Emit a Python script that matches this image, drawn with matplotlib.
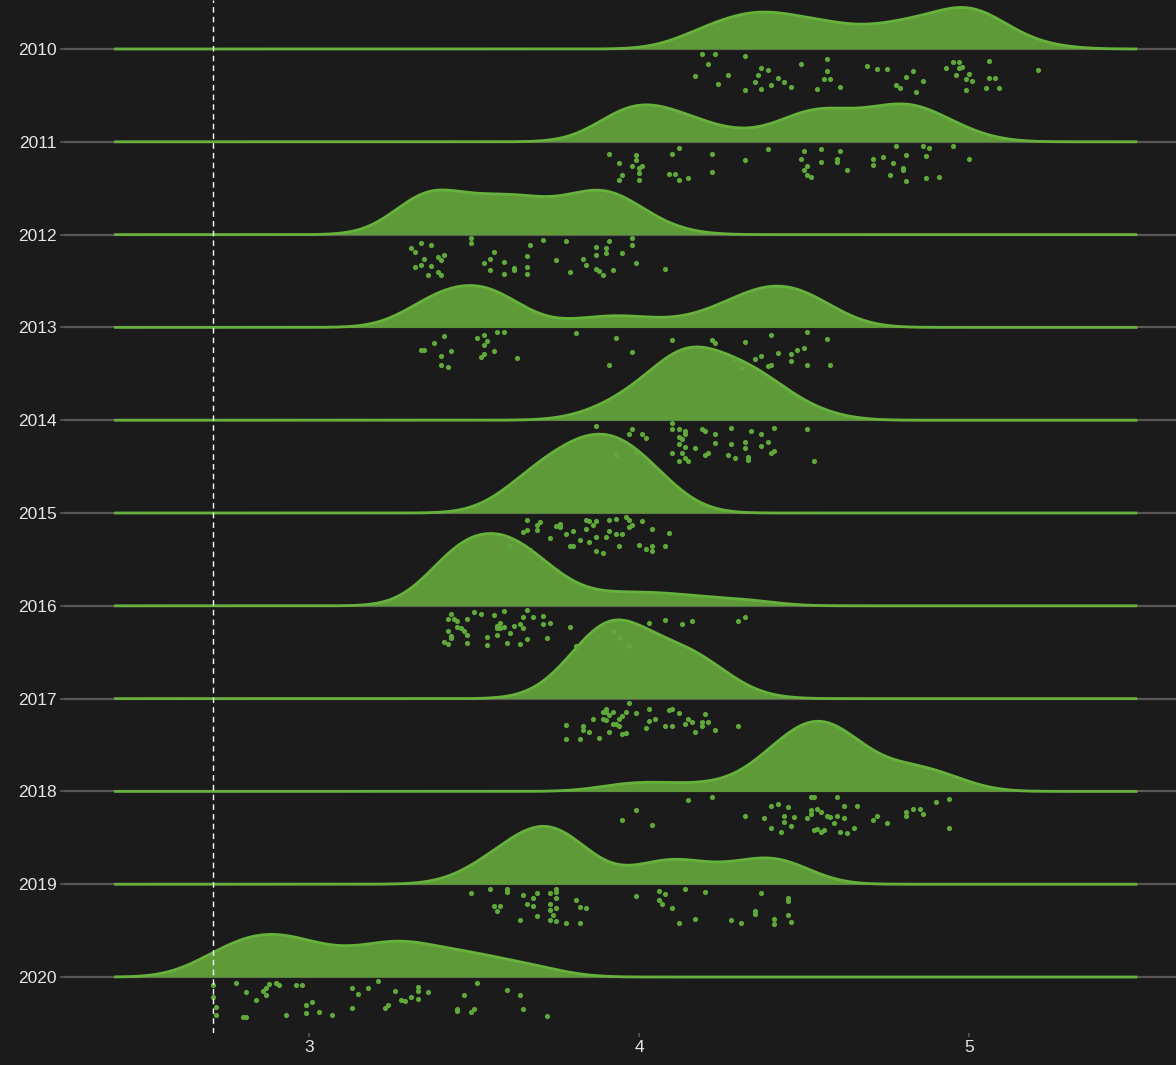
import numpy as np
import matplotlib
matplotlib.use("Agg")
import matplotlib.pyplot as plt

plt.rcParams['font.family'] = ['Liberation Sans', 'DejaVu Sans']

# observed values per year, with the vertical jitter each point was drawn with
x2010 = [4.19, 4.23, 4.32, 4.21, 4.17, 4.24, 4.27, 4.32, 4.37, 4.39, 4.36, 4.35, 4.37, 4.40, 4.42, 4.44,
         4.46, 4.49, 4.57, 4.57, 4.56, 4.58, 4.54, 4.61, 4.69, 4.72, 4.75, 4.78, 4.79, 4.81, 4.83, 4.86,
         4.84, 4.93, 4.95, 4.97, 4.97, 4.98, 4.96, 5.00, 4.99, 5.01, 4.99, 5.06, 5.06, 5.08, 5.05, 5.09, 5.21]
j2010 = [0.05, 0.05, 0.08, 0.16, 0.29, 0.38, 0.28, 0.44, 0.20, 0.23, 0.28, 0.36, 0.43, 0.39, 0.31, 0.36,
         0.41, 0.16, 0.11, 0.24, 0.32, 0.32, 0.43, 0.41, 0.18, 0.22, 0.22, 0.39, 0.42, 0.30, 0.24, 0.35,
         0.46, 0.20, 0.14, 0.14, 0.20, 0.19, 0.28, 0.27, 0.32, 0.34, 0.44, 0.13, 0.31, 0.31, 0.42, 0.42, 0.23]

x2011 = [3.91, 3.94, 3.95, 3.94, 3.98, 3.99, 3.99, 4.00, 4.01, 4.00, 4.00, 4.10, 4.12, 4.09, 4.11, 4.12,
         4.15, 4.22, 4.22, 4.32, 4.39, 4.50, 4.49, 4.51, 4.50, 4.51, 4.52, 4.55, 4.55, 4.61, 4.60, 4.60,
         4.63, 4.71, 4.71, 4.74, 4.76, 4.77, 4.78, 4.80, 4.80, 4.81, 4.81, 4.86, 4.88, 4.87, 4.87, 4.91,
         4.95, 5.00]
j2011 = [0.13, 0.23, 0.36, 0.41, 0.26, 0.14, 0.20, 0.28, 0.26, 0.34, 0.41, 0.13, 0.07, 0.35, 0.35, 0.41,
         0.39, 0.13, 0.33, 0.20, 0.08, 0.10, 0.18, 0.26, 0.30, 0.36, 0.38, 0.08, 0.22, 0.10, 0.19, 0.22,
         0.30, 0.18, 0.25, 0.16, 0.36, 0.23, 0.05, 0.28, 0.30, 0.14, 0.42, 0.05, 0.07, 0.15, 0.39, 0.38,
         0.04, 0.18]

x2012 = [3.31, 3.32, 3.34, 3.37, 3.35, 3.39, 3.40, 3.41, 3.32, 3.34, 3.37, 3.36, 3.39, 3.40, 3.49, 3.49,
         3.56, 3.55, 3.53, 3.55, 3.59, 3.59, 3.62, 3.62, 3.66, 3.67, 3.66, 3.66, 3.71, 3.75, 3.78, 3.79,
         3.83, 3.84, 3.87, 3.87, 3.90, 3.90, 3.91, 3.87, 3.88, 3.89, 3.92, 3.95, 3.98, 3.98, 3.99, 4.08]
j2012 = [0.14, 0.19, 0.09, 0.11, 0.26, 0.24, 0.27, 0.22, 0.35, 0.33, 0.34, 0.44, 0.40, 0.43, 0.04, 0.09,
         0.19, 0.26, 0.31, 0.38, 0.29, 0.42, 0.36, 0.38, 0.23, 0.11, 0.35, 0.42, 0.06, 0.27, 0.07, 0.40,
         0.26, 0.33, 0.13, 0.22, 0.14, 0.20, 0.07, 0.37, 0.39, 0.43, 0.38, 0.20, 0.04, 0.11, 0.31, 0.37]

x2013 = [3.34, 3.35, 3.38, 3.41, 3.40, 3.43, 3.40, 3.42, 3.51, 3.53, 3.54, 3.53, 3.52, 3.53, 3.56, 3.57,
         3.59, 3.63, 3.81, 3.91, 3.93, 3.98, 4.10, 4.22, 4.23, 4.29, 4.31, 4.32, 4.35, 4.37, 4.40, 4.42,
         4.39, 4.40, 4.46, 4.46, 4.48, 4.50, 4.51, 4.51, 4.57, 4.58]
j2013 = [0.24, 0.24, 0.17, 0.09, 0.31, 0.25, 0.41, 0.43, 0.11, 0.08, 0.15, 0.19, 0.32, 0.29, 0.25, 0.05,
         0.05, 0.33, 0.06, 0.40, 0.11, 0.27, 0.14, 0.14, 0.17, 0.34, 0.44, 0.16, 0.34, 0.31, 0.08, 0.28,
         0.42, 0.41, 0.36, 0.29, 0.24, 0.22, 0.05, 0.41, 0.12, 0.41]

x2014 = [3.87, 3.97, 3.98, 4.01, 4.02, 3.99, 3.93, 4.10, 4.10, 4.12, 4.14, 4.14, 4.12, 4.13, 4.12, 4.14,
         4.17, 4.10, 4.13, 4.14, 4.15, 4.12, 4.19, 4.20, 4.23, 4.23, 4.21, 4.20, 4.28, 4.28, 4.27, 4.29,
         4.32, 4.32, 4.33, 4.33, 4.34, 4.37, 4.37, 4.39, 4.40, 4.41, 4.41, 4.51, 4.53]
j2014 = [0.06, 0.15, 0.10, 0.15, 0.19, 0.34, 0.38, 0.03, 0.10, 0.10, 0.12, 0.15, 0.18, 0.20, 0.26, 0.29,
         0.30, 0.35, 0.35, 0.41, 0.44, 0.44, 0.09, 0.12, 0.15, 0.25, 0.35, 0.38, 0.08, 0.26, 0.37, 0.41,
         0.23, 0.30, 0.40, 0.43, 0.12, 0.15, 0.28, 0.23, 0.35, 0.33, 0.08, 0.09, 0.44]

x2015 = [3.66, 3.70, 3.69, 3.69, 3.66, 3.65, 3.76, 3.76, 3.75, 3.73, 3.78, 3.80, 3.79, 3.80, 3.82, 3.84,
         3.85, 3.87, 3.86, 3.84, 3.85, 3.87, 3.87, 3.89, 3.91, 3.91, 3.90, 3.93, 3.93, 3.95, 3.96, 3.97,
         3.98, 3.97, 3.94, 4.01, 4.04, 4.00, 4.02, 4.04, 4.04, 4.09, 4.08, 3.61, 3.67]
j2015 = [0.08, 0.10, 0.13, 0.18, 0.18, 0.20, 0.12, 0.15, 0.14, 0.27, 0.23, 0.19, 0.36, 0.35, 0.29, 0.07,
         0.09, 0.09, 0.13, 0.17, 0.31, 0.26, 0.41, 0.43, 0.07, 0.19, 0.26, 0.06, 0.23, 0.23, 0.04, 0.07,
         0.13, 0.15, 0.36, 0.09, 0.17, 0.34, 0.39, 0.36, 0.41, 0.22, 0.36, 0.35, 0.40]

x2016 = [3.43, 3.42, 3.44, 3.45, 3.48, 3.50, 3.52, 3.56, 3.59, 3.66, 3.65, 3.68, 3.71, 3.71, 3.73, 3.58,
         3.57, 3.57, 3.58, 3.59, 3.62, 3.64, 3.65, 3.61, 3.57, 3.54, 3.54, 3.60, 3.64, 3.66, 3.72, 3.79,
         3.45, 3.46, 3.47, 3.48, 3.42, 3.43, 3.43, 3.41, 3.42, 3.48, 3.92, 3.94, 3.97, 3.81, 4.03, 4.08,
         4.13, 4.16, 4.30, 4.32]
j2016 = [0.09, 0.14, 0.14, 0.16, 0.14, 0.07, 0.09, 0.10, 0.06, 0.04, 0.12, 0.12, 0.11, 0.20, 0.18, 0.18,
         0.22, 0.24, 0.24, 0.23, 0.22, 0.20, 0.24, 0.29, 0.31, 0.34, 0.42, 0.40, 0.41, 0.36, 0.35, 0.23,
         0.23, 0.24, 0.27, 0.31, 0.27, 0.32, 0.35, 0.39, 0.41, 0.40, 0.27, 0.35, 0.43, 0.43, 0.18, 0.15,
         0.20, 0.16, 0.16, 0.12]

x2017 = [3.78, 3.78, 3.82, 3.83, 3.83, 3.85, 3.86, 3.88, 3.89, 3.90, 3.90, 3.89, 3.90, 3.91, 3.92, 3.91,
         3.92, 3.93, 3.94, 3.94, 3.95, 3.95, 3.96, 3.96, 3.97, 3.99, 4.02, 4.03, 4.03, 4.05, 4.08, 4.10,
         4.09, 4.10, 4.12, 4.14, 4.15, 4.16, 4.17, 4.19, 4.19, 4.20, 4.21, 4.23, 4.30]
j2017 = [0.28, 0.43, 0.44, 0.29, 0.34, 0.36, 0.22, 0.42, 0.14, 0.11, 0.14, 0.22, 0.23, 0.18, 0.14, 0.36,
         0.27, 0.27, 0.29, 0.22, 0.19, 0.38, 0.37, 0.14, 0.05, 0.16, 0.32, 0.24, 0.11, 0.22, 0.29, 0.29,
         0.12, 0.11, 0.16, 0.27, 0.22, 0.25, 0.36, 0.25, 0.29, 0.17, 0.25, 0.34, 0.29]

x2018 = [3.95, 3.99, 4.04, 4.15, 4.22, 4.32, 4.38, 4.40, 4.42, 4.40, 4.43, 4.44, 4.44, 4.45, 4.46, 4.47,
         4.51, 4.52, 4.52, 4.52, 4.53, 4.54, 4.55, 4.53, 4.54, 4.55, 4.56, 4.57, 4.58, 4.60, 4.59, 4.60,
         4.62, 4.62, 4.61, 4.63, 4.65, 4.66, 4.71, 4.72, 4.75, 4.81, 4.81, 4.83, 4.85, 4.86, 4.90, 4.94,
         4.94]
j2018 = [0.31, 0.20, 0.36, 0.09, 0.06, 0.27, 0.29, 0.16, 0.14, 0.39, 0.44, 0.27, 0.33, 0.17, 0.37, 0.28,
         0.29, 0.20, 0.24, 0.06, 0.06, 0.19, 0.22, 0.42, 0.40, 0.44, 0.42, 0.27, 0.28, 0.27, 0.34, 0.06,
         0.16, 0.29, 0.44, 0.45, 0.39, 0.16, 0.31, 0.27, 0.34, 0.22, 0.27, 0.19, 0.19, 0.24, 0.11, 0.08,
         0.39]

x2019 = [3.49, 3.55, 3.60, 3.60, 3.65, 3.69, 3.66, 3.68, 3.68, 3.73, 3.75, 3.75, 3.75, 3.73, 3.73, 3.75,
         3.74, 3.69, 3.64, 3.73, 3.75, 3.78, 3.82, 3.81, 3.82, 3.84, 3.56, 3.58, 3.57, 3.99, 4.06, 4.08,
         4.06, 4.07, 4.10, 4.14, 4.20, 4.17, 4.12, 4.28, 4.31, 4.35, 4.35, 4.37, 4.45, 4.45, 4.45, 4.41,
         4.41, 4.46]
j2019 = [0.09, 0.05, 0.05, 0.08, 0.12, 0.09, 0.21, 0.15, 0.23, 0.09, 0.05, 0.08, 0.15, 0.21, 0.28, 0.26,
         0.33, 0.34, 0.38, 0.38, 0.40, 0.42, 0.42, 0.17, 0.24, 0.26, 0.23, 0.23, 0.29, 0.13, 0.07, 0.10,
         0.17, 0.21, 0.26, 0.05, 0.08, 0.37, 0.42, 0.38, 0.42, 0.29, 0.32, 0.09, 0.15, 0.18, 0.33, 0.37,
         0.43, 0.41]

x2020 = [2.71, 2.71, 2.72, 2.72, 2.78, 2.81, 2.84, 2.86, 2.87, 2.88, 2.87, 2.90, 2.91, 2.80, 2.81, 2.93,
         2.96, 2.98, 2.99, 3.01, 2.99, 3.03, 3.07, 3.13, 3.13, 3.15, 3.18, 3.21, 3.23, 3.24, 3.26, 3.28,
         3.29, 3.31, 3.33, 3.33, 3.33, 3.36, 3.45, 3.45, 3.47, 3.49, 3.50, 3.51, 3.60, 3.64, 3.65, 3.72]
j2020 = [0.09, 0.22, 0.32, 0.41, 0.06, 0.16, 0.25, 0.15, 0.12, 0.08, 0.19, 0.06, 0.09, 0.43, 0.43, 0.41,
         0.09, 0.09, 0.30, 0.27, 0.39, 0.38, 0.41, 0.12, 0.33, 0.18, 0.12, 0.04, 0.33, 0.30, 0.15, 0.25,
         0.26, 0.22, 0.11, 0.15, 0.24, 0.16, 0.34, 0.37, 0.19, 0.38, 0.34, 0.06, 0.14, 0.19, 0.34, 0.42]

years = [2010, 2011, 2012, 2013, 2014, 2015, 2016, 2017, 2018, 2019, 2020]
values = [x2010, x2011, x2012, x2013, x2014, x2015, x2016, x2017, x2018, x2019, x2020]
jitter = [j2010, j2011, j2012, j2013, j2014, j2015, j2016, j2017, j2018, j2019, j2020]

BG = "#1b1b1b"
FILL = "#5e9a38"
EDGE = "#67b23c"
POINT = "#5ea93a"
GRID = "#585858"
TEXT = "#e6e6e6"

bw = 0.1
scale = 0.85

all_vals = np.concatenate([np.asarray(v) for v in values])
grid = np.linspace(all_vals.min() - 3 * bw, all_vals.max() + 3 * bw, 512)


def kde(v):
    v = np.asarray(v)
    z = (grid[:, None] - v[None, :]) / bw
    return np.exp(-0.5 * z ** 2).sum(axis=1) / (len(v) * bw * np.sqrt(2 * np.pi))


dens = [kde(v) for v in values]
top = max(d.max() for d in dens)

fig = plt.figure(figsize=(11.76, 10.65), dpi=100, facecolor=BG)
ax = fig.add_axes([64 / 1176, 32 / 1065, 1112 / 1176, 1033 / 1065])
ax.set_facecolor(BG)

n = len(years)
for i, (yr, d) in enumerate(zip(years, dens)):
    base = n - 1 - i
    ax.axhline(base, color=GRID, lw=1.6, zorder=0)
    h = base + d / top * scale
    ax.fill_between(grid, base, h, color=FILL, lw=0, zorder=2 + 2 * i)
    ax.plot(grid, h, color=EDGE, lw=2, zorder=3 + 2 * i, solid_capstyle="butt")

for i, (v, j) in enumerate(zip(values, jitter)):
    base = n - 1 - i
    ax.scatter(v, base - np.asarray(j), s=14, marker="o", color=POINT, lw=0, zorder=40)

ax.axvline(all_vals.min(), color="white", lw=1, ls=(0, (4, 3)), zorder=50)

ax.set_xlim(2.258, 5.627)
ax.set_ylim(-0.603, 10.528)
ax.set_yticks(range(n))
ax.set_yticklabels([str(y) for y in years[::-1]])
ax.set_xticks([3, 4, 5])
for s in ax.spines.values():
    s.set_visible(False)
ax.tick_params(colors=GRID, labelcolor=TEXT, labelsize=12.5, length=3, width=1.2, pad=2)

fig.savefig("out.png", dpi=100, facecolor=BG)
